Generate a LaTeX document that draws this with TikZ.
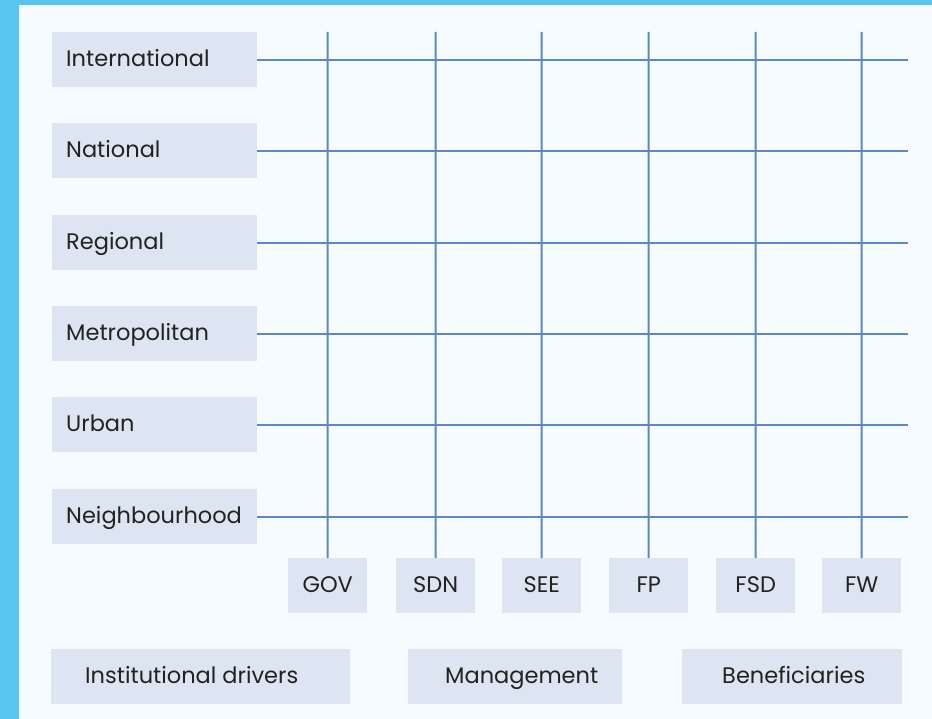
\documentclass[tikz,border=0pt]{standalone}
\usepackage{fontspec}
\setmainfont{Poppins}
\definecolor{frame}{HTML}{5BC5F2}
\definecolor{bg}{HTML}{F5FBFF}
\definecolor{boxfill}{HTML}{DCE5F1}
\definecolor{gridline}{HTML}{5B88C6}
\definecolor{txt}{HTML}{222222}
\begin{document}
\begin{tikzpicture}[x=1pt,y=-1pt,
  lab/.style={text=txt,font=\fontsize{22.5}{25}\selectfont,inner sep=0pt,text height=16pt,text depth=2pt},
  lbox/.style={fill=boxfill,draw=none,minimum width=205pt,minimum height=55pt,anchor=north west,inner sep=0pt},
  sbox/.style={lab,fill=boxfill,draw=none,minimum width=79pt,minimum height=55pt,anchor=north west},
  cbox/.style={fill=boxfill,draw=none,minimum height=55pt,anchor=north west,inner sep=0pt},
  gline/.style={draw=gridline,line width=2pt}]
\useasboundingbox (0,0) rectangle (932,719);
\fill[frame] (0,0) rectangle (932,719);
\fill[bg] (19,5) rectangle (932,719);
\coordinate (rightedge) at (908,0);
% level boxes
\foreach \n/\t/\y in {lint/International/32,lnat/National/123,lreg/Regional/215,lmet/Metropolitan/306,lurb/Urban/397,lnei/Neighbourhood/489}{
  \node[lbox] (\n) at (52,\y) {};
  \node[lab,anchor=west] (\n t) at (66,\y+27.5) {\t};
  \draw[gline] (\n.east) -- (\n.east -| rightedge);
}
% actor boxes
\foreach \n/\t/\x in {gov/GOV/288,sdn/SDN/396,see/SEE/502,fp/FP/609,fsd/FSD/716,fw/FW/822}{
  \node[sbox] (\n) at (\x,558) {\t};
  \coordinate (\n t) at (\x+39.5,32);
  \draw[gline] (\n.north) -- (\n t);
}
% bottom category boxes
\node[cbox,minimum width=299pt] (inst) at (51,649) {};
\node[lab,anchor=west] (instt) at (85,676.5) {Institutional drivers};
\node[cbox,minimum width=214pt] (mgmt) at (408,649) {};
\node[lab,anchor=west] (mgmtt) at (445,676.5) {Management};
\node[cbox,minimum width=220pt] (bene) at (682,649) {};
\node[lab,anchor=west] (benet) at (722,676.5) {Beneficiaries};
\end{tikzpicture}
\end{document}
